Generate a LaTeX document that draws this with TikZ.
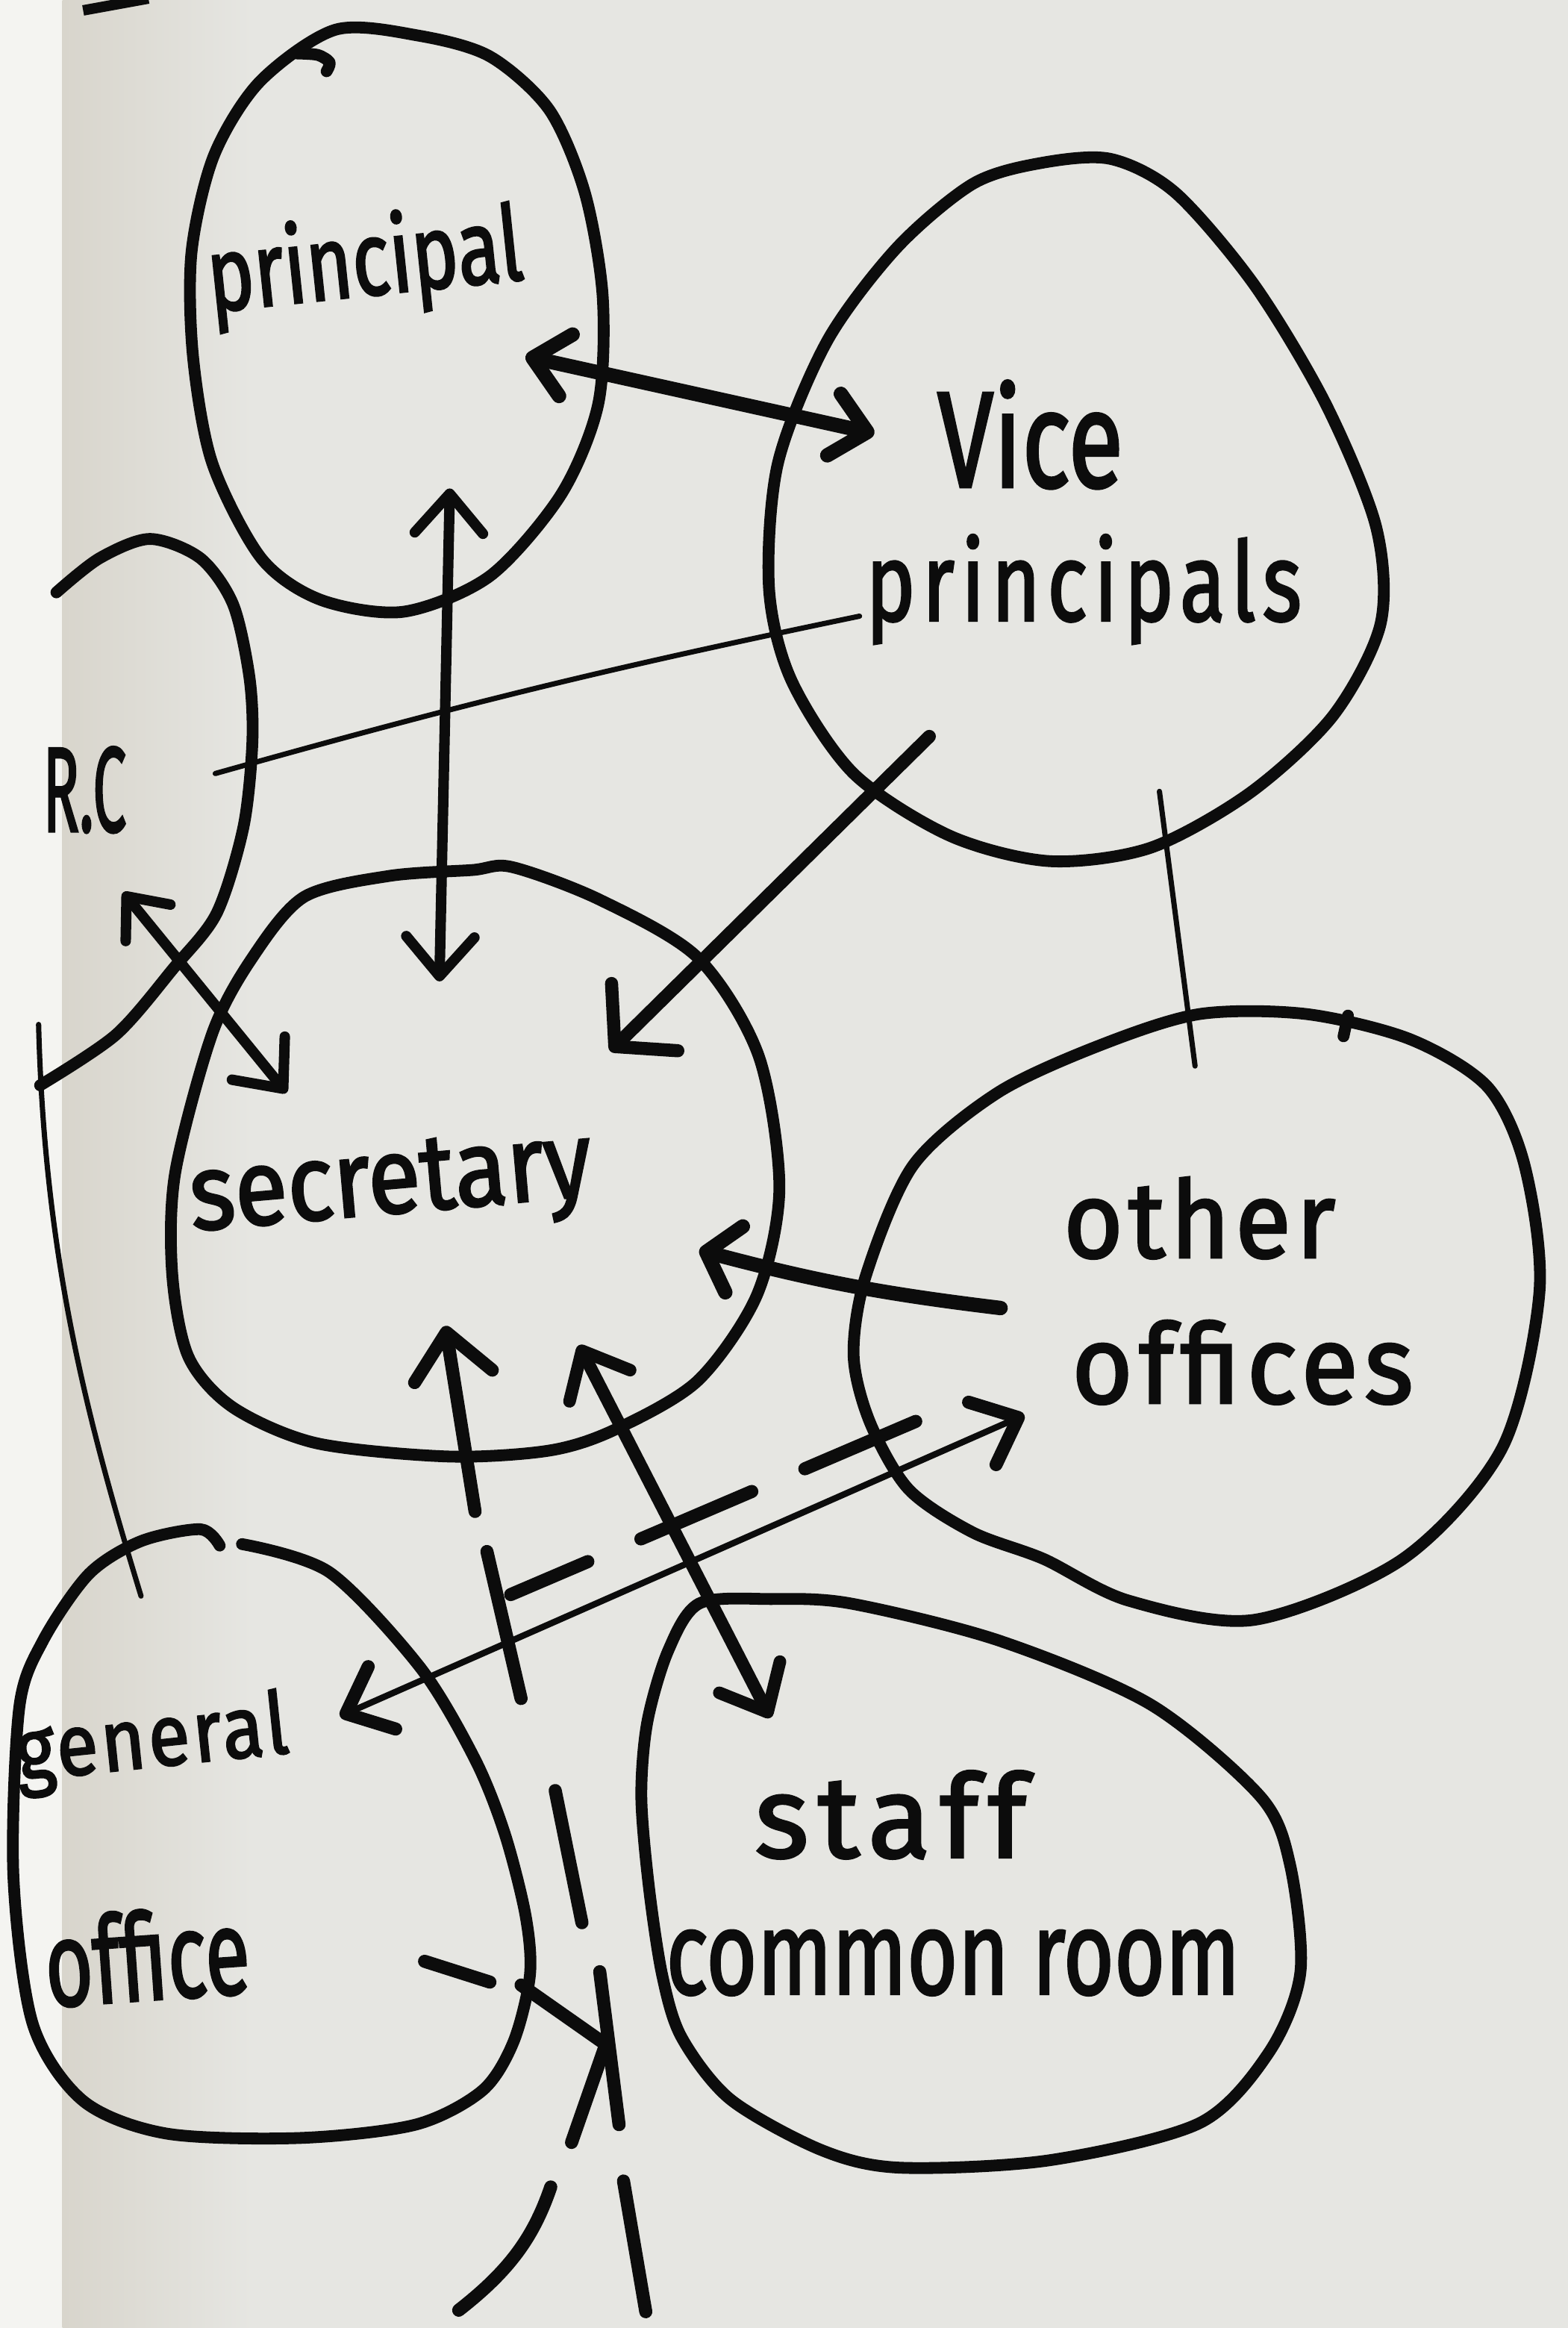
\documentclass[tikz,border=0pt]{standalone}
\usepackage{fontspec}
\newfontfamily\hand{Fira Sans}[FakeBold=2.2]
\usetikzlibrary{arrows.meta}
\definecolor{paper}{RGB}{230,230,226}
\definecolor{margin}{RGB}{244,244,241}
\definecolor{spine}{RGB}{216,213,204}
\definecolor{ink}{RGB}{12,12,12}
\tikzset{
  room/.style={ink,line width=4.5pt,line cap=round,line join=round},
  lbl/.style={text=ink,inner sep=0pt,anchor=base},
  flow/.style={ink,line width=#1,line cap=round,line join=round},
  flow/.default=4pt,
  leader/.style={ink,line width=2pt,line cap=round},
  walk/.style={ink,line width=5pt,line cap=round},
  barb/.tip={Straight Barb[length=15pt,width=26pt,round]}
}
\begin{document}
\begin{tikzpicture}[x=0.0199cm,y=-0.0199cm]
\useasboundingbox (0,0) rectangle (1056,1568);
\fill[paper] (0,0) rectangle (1056,1568);
\fill[margin] (0,0) rectangle (42,1568);
\shade[left color=spine,right color=paper] (42,0) rectangle (170,1568);
\draw[ink,line width=4pt] (56,7) -- (100,-1);

% rooms
\draw[room] plot[smooth cycle] coordinates {(226,20) (282,24) (330,38) (370,74) (394,130) (406,200) (403,272) (378,333) (330,388) (272,412) (216,404) (176,376) (143,312) (130,240) (129,170) (144,105) (175,55)};
\draw[room] plot[smooth] coordinates {(200,36) (214,37) (222,42) (220,48)};
\draw[room] plot[smooth cycle] coordinates {(700,110) (748,107) (792,130) (845,192) (893,272) (927,355) (930,420) (898,482) (842,534) (775,571) (707,580) (640,563) (575,521) (533,458) (518,396) (524,312) (557,230) (604,167) (655,124)};
\draw[room] plot[smooth] coordinates {(38,399) (67,376) (101,363) (135,376) (157,407) (168,456) (170,500) (164,557) (146,615) (117,652) (78,697) (27,731)};
\draw[room] plot[smooth cycle] coordinates {(205,604) (262,590) (318,586) (345,584) (404,606) (470,645) (511,711) (525,800) (510,872) (470,930) (414,963) (370,977) (302,981) (213,972) (157,948) (127,914) (116,858) (118,790) (143,696) (170,645)};
\draw[room] plot[smooth cycle] coordinates {(741,704) (808,683) (880,683) (950,700) (1002,732) (1027,785) (1037,870) (1012,975) (945,1050) (845,1091) (760,1078) (703,1050) (655,1032) (612,1003) (586,958) (575,913) (583,860) (615,785) (672,736)};
\draw[room] (908,684) -- (905,698);
\draw[room] plot[smooth] coordinates {(163,1040) (222,1059) (283,1123) (320,1185) (340,1235) (354,1290) (357,1330) (346,1375) (325,1408) (280,1431) (202,1440) (112,1437) (56,1415) (22,1363) (9,1263) (13,1150) (29,1105) (60,1060) (95,1038) (135,1030) (148,1041)};
\draw[room] plot[smooth cycle] coordinates {(471,1080) (519,1077) (573,1080) (673,1105) (775,1148) (849,1210) (869,1256) (876,1328) (855,1382) (808,1430) (707,1455) (606,1460) (553,1448) (492,1414) (459,1372) (446,1330) (437,1270) (432,1210) (436,1160) (450,1112)};

% labels
\node[lbl,font=\hand\fontsize{40}{40}\selectfont,rotate=6,xscale=0.75] (principal) at (248,199) {principal};
\node[lbl,font=\hand\fontsize{52}{52}\selectfont,xscale=0.74] (vice) at (694,328) {Vice};
\node[lbl,font=\hand\fontsize{42}{42}\selectfont\addfontfeature{LetterSpace=8},xscale=0.76] (vicep) at (730,418) {principals};
\node[lbl,font=\hand\fontsize{46}{46}\selectfont,xscale=0.5] (rc) at (57,560) {R.C};
\node[lbl,font=\hand\fontsize{41}{41}\selectfont,rotate=5,xscale=0.9] (secretary) at (265,817) {secretary};
\node[lbl,font=\hand\fontsize{41}{41}\selectfont\addfontfeature{LetterSpace=5},xscale=0.95] (other) at (808,847) {other};
\node[lbl,font=\hand\fontsize{42}{42}\selectfont\addfontfeature{LetterSpace=6},xscale=0.95] (offices) at (837,945) {offices};
\node[lbl,font=\hand\fontsize{33}{33}\selectfont\addfontfeature{LetterSpace=4},rotate=6,xscale=0.88] (general) at (104,1190) {general};
\node[lbl,font=\hand\fontsize{46}{46}\selectfont,rotate=4,xscale=0.68] (office) at (101,1347) {office};
\node[lbl,font=\hand\fontsize{44}{44}\selectfont\addfontfeature{LetterSpace=8}] (staff) at (600,1251) {staff};
\node[lbl,font=\hand\fontsize{45}{45}\selectfont,xscale=0.74] (common) at (642,1343) {common room};

% ends of the links
\coordinate (pv1) at (354,240); \coordinate (pv2) at (589,292);
\coordinate (ps1) at (303,329); \coordinate (ps2) at (296,661);
\coordinate (vs1) at (626,496); \coordinate (vs2) at (411,708);
\coordinate (rs1) at (83,601);  \coordinate (rs2) at (193,736);
\coordinate (os1) at (674,881); \coordinate (os2) at (471,842);
\coordinate (ss1) at (390,906); \coordinate (ss2) at (519,1157);
\coordinate (go1) at (229,1156); \coordinate (go2) at (690,953);
\coordinate (gd1) at (344,1074); \coordinate (gd2) at (620,956);
\coordinate (la1) at (145,521); \coordinate (la2) at (579,415);
\coordinate (lb1) at (781,533); \coordinate (lb2) at (805,718);
\coordinate (lc1) at (26,690);  \coordinate (lc2) at (95,1075);
\coordinate (e0) at (300,893);  \coordinate (e1) at (320,1018);
\coordinate (e2) at (328,1045); \coordinate (e3) at (351,1144);
\coordinate (e4) at (374,1206); \coordinate (e5) at (392,1295);
\coordinate (e6) at (404,1328); \coordinate (e7) at (417,1431);
\coordinate (j0) at (408,1377); \coordinate (j1) at (351,1337); \coordinate (j2) at (385,1443);
\coordinate (g1) at (286,1321); \coordinate (g2) at (330,1335);
\coordinate (b1) at (309,1556); \coordinate (b2) at (371,1473);
\coordinate (b3) at (420,1469); \coordinate (b4) at (435,1557);

% links
\draw[flow=5.5pt,{barb[length=13pt,width=24pt]}-{barb[length=13pt,width=24pt]}] (pv1) -- (pv2);
\draw[flow=4pt,barb-barb] (ps1) -- (ps2);
\draw[flow=5pt,-{barb[length=16pt,width=36pt]}] (vs1) -- (vs2);
\draw[flow=4pt,{barb[length=13pt,width=22pt]}-barb] (rs1) -- (rs2);
\draw[flow=5.5pt,-{barb[length=11pt,width=26pt]}] (os1) to[bend left=4] (os2);
\draw[flow=4.8pt,barb-barb] (ss1) -- (ss2);
\draw[flow=2.4pt,{barb[line width=5pt]}-{barb[line width=5pt]}] (go1) -- (go2);
\draw[walk,dash pattern=on 46pt off 22pt,dash phase=14pt] (gd1) -- (gd2);
\draw[leader] (la1) to[bend left=2] (la2);
\draw[leader] (lb1) -- (lb2);
\draw[leader] (lc1) .. controls (30,850) and (60,960) .. (lc2);

% way in
\draw[walk,-{barb[length=17pt,width=30pt]}] (e1) -- (e0);
\draw[walk] (e2) -- (e3);
\draw[walk] (e4) -- (e5);
\draw[walk] (e6) -- (e7);
\draw[walk] (j1) -- (j0) -- (j2);
\draw[walk] (g1) -- (g2);
\draw[walk] (b1) .. controls (345,1528) and (360,1505) .. (b2);
\draw[walk] (b3) -- (b4);
\end{tikzpicture}
\end{document}
